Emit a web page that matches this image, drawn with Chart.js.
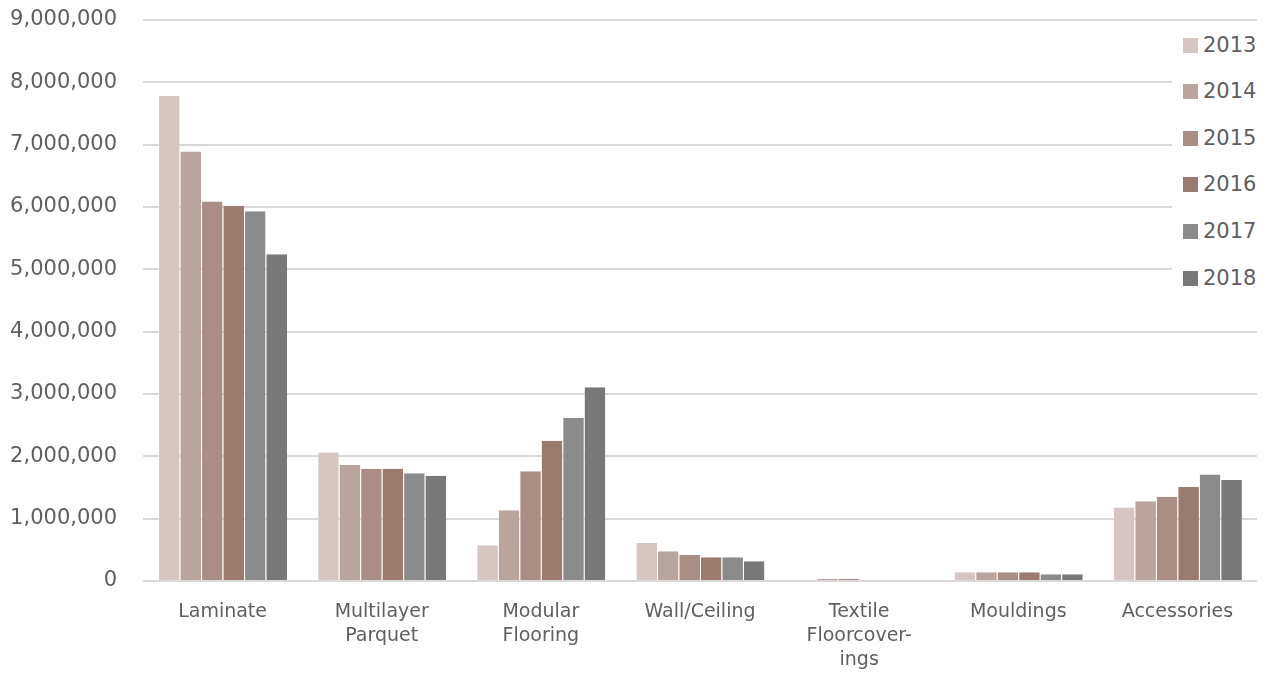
<!DOCTYPE html>
<html>
<head>
<meta charset="utf-8">
<script src="https://cdn.jsdelivr.net/npm/chart.js@4/dist/chart.umd.min.js"></script>
<style>
    html, body { margin: 0; padding: 0; background: #fff; }
    #wrap { position: relative; width: 1271px; height: 677px; }
    #legend {
        position: absolute; left: 1172px; top: 24px; width: 99px; height: 278px;
        background: #fff; font-family: "DejaVu Sans", sans-serif;
        font-size: 21px; color: #5f5f5f;
    }
    .item { position: absolute; left: 11px; height: 24px; line-height: 24px; white-space: nowrap; }
    .item span.box { display: inline-block; width: 15px; height: 15px; vertical-align: -1px; margin-right: 5px; }
</style>
</head>
<body>
<div id="wrap">
    <canvas id="chart" width="1271" height="677"></canvas>
    <div id="legend"></div>
</div>
<script>
// --- Data ---
const categories = [
    'Laminate',
    ['Multilayer', 'Parquet'],
    ['Modular', 'Flooring'],
    'Wall/Ceiling',
    ['Textile', 'Floorcover-', 'ings'],
    'Mouldings',
    'Accessories'
];
const years = ['2013', '2014', '2015', '2016', '2017', '2018'];

const values2013 = [7780000, 2060000, 575000, 610000, 0, 140000, 1180000];
const values2014 = [6890000, 1860000, 1135000, 476000, 35000, 140000, 1280000];
const values2015 = [6090000, 1800000, 1760000, 417000, 35000, 140000, 1350000];
const values2016 = [6020000, 1800000, 2250000, 380000, 0, 140000, 1510000];
const values2017 = [5930000, 1730000, 2620000, 380000, 0, 107000, 1710000];
const values2018 = [5240000, 1690000, 3110000, 315000, 0, 107000, 1620000];

const yTicks = [0, 1000000, 2000000, 3000000, 4000000, 5000000, 6000000, 7000000, 8000000, 9000000];

const colors = ['#d5c6c2', '#b9a59e', '#aa8d84', '#9b7a70', '#8b8b8b', '#787878'];

const seriesValues = [values2013, values2014, values2015, values2016, values2017, values2018];

const datasets = years.map((year, i) => ({
    label: year,
    data: seriesValues[i],
    backgroundColor: colors[i],
    borderColor: 'rgba(255,255,255,0.35)',
    borderWidth: { left: 1, right: 0, top: 0, bottom: 0 },
    barPercentage: 1.0,
    categoryPercentage: 0.81,
}));

const textColor = '#5f5f5f';
const fontFamily = '"DejaVu Sans", sans-serif';

new Chart(document.getElementById('chart'), {
    type: 'bar',
    data: { labels: categories, datasets: datasets },
    options: {
        responsive: false,
        animation: false,
        layout: { padding: { top: 0, right: 14, left: 0, bottom: 0 } },
        plugins: {
            legend: { display: false },
            tooltip: { enabled: false },
        },
        scales: {
            x: {
                grid: { display: false, drawTicks: false },
                border: { display: false },
                ticks: {
                    color: textColor,
                    padding: 19,
                    maxRotation: 0,
                    autoSkip: false,
                    font: { family: fontFamily, size: 19, lineHeight: 1.26 },
                },
                afterFit: (scale) => { scale.height = 96; },
            },
            y: {
                min: 0,
                max: 9000000,
                afterBuildTicks: (scale) => { scale.ticks = yTicks.map(v => ({ value: v })); },
                grid: { color: '#d9d9d9', lineWidth: 2, drawTicks: false },
                border: { display: false },
                ticks: {
                    color: textColor,
                    padding: 26,
                    font: { family: fontFamily, size: 21 },
                    callback: (v) => Number(v).toLocaleString('en-US'),
                },
                afterFit: (scale) => {
                    scale.width = 143;
                    // keep the top gridline at y=20 (tick padding would push it down)
                    scale.paddingTop = 20;
                    scale.paddingBottom = 0;
                },
            },
        },
    },
});

// --- HTML legend on top of the plot area ---
const legendEl = document.getElementById('legend');
const legendTops = [9, 55, 102, 148, 195, 242];
years.forEach((year, i) => {
    const div = document.createElement('div');
    div.className = 'item';
    div.style.top = legendTops[i] + 'px';
    div.innerHTML = `<span class="box" style="background:${colors[i]}"></span>${year}`;
    legendEl.appendChild(div);
});
</script>
</body>
</html>
